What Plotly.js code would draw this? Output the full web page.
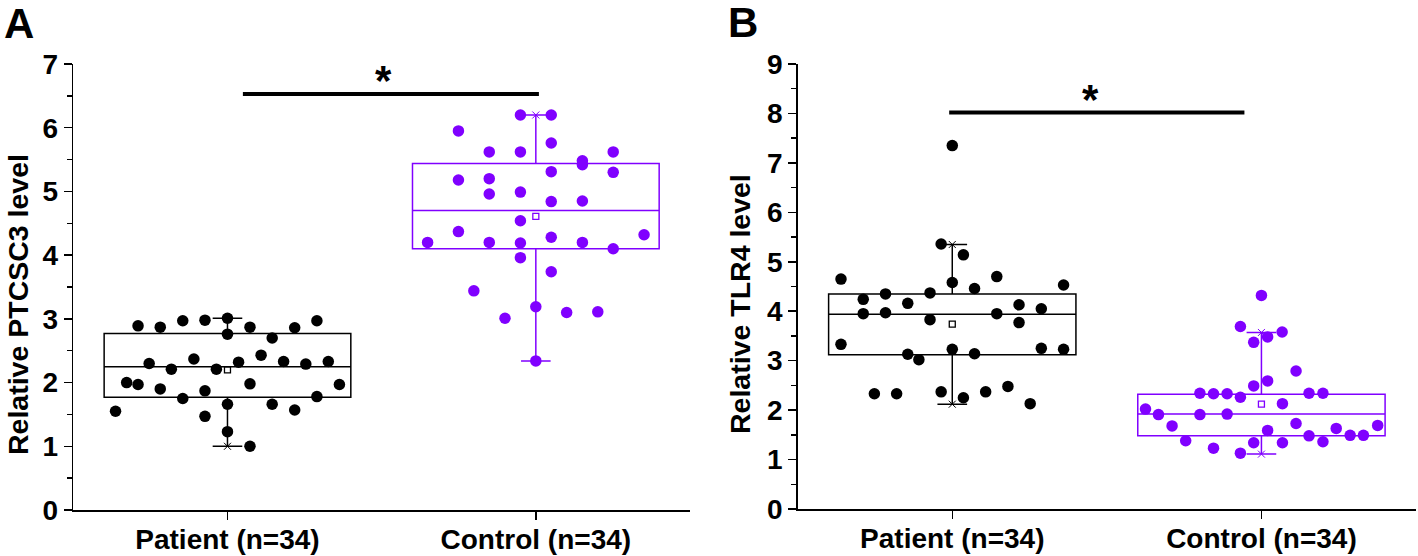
<!DOCTYPE html>
<html>
<head>
<meta charset="utf-8">
<script src="https://cdn.plot.ly/plotly-3.0.1.min.js"></script>
<style>html,body{margin:0;padding:0;background:#fff;}#chart{width:1418px;height:556px;}</style>
</head>
<body>
<div id="chart"></div>
<script>
// ---------- data ----------
const categories = ['Patient (n=34)', 'Control (n=34)'];
const yTitles = ['Relative PTCSC3 level', 'Relative TLR4 level'];
const panelLabels = ['A', 'B'];

// Panel A: PTCSC3
const ptcsc3Patient = [2.89,2.87,2.97,2.98,3.01,2.87,2.86,2.97,2.76,2.70,2.30,2.21,2.37,2.21,2.32,2.43,2.33,2.29,2.33,2.00,1.97,1.90,1.87,1.98,1.97,1.75,1.66,1.66,1.78,1.55,1.57,1.47,1.23,1.00];
const ptcsc3PatientJitter = [-0.290,-0.218,-0.145,-0.073,0,0.073,0.218,0.290,0,0.145,-0.254,-0.182,-0.109,-0.036,0.036,0.109,0.182,0.254,0.327,-0.327,-0.290,-0.218,-0.073,0.073,0.363,-0.145,0,0.145,0.290,-0.363,0.218,-0.073,0,0.073];
const ptcsc3Control = [6.20,6.20,5.95,5.62,5.62,5.76,5.48,5.42,5.62,5.18,5.20,5.31,5.30,4.96,4.99,4.84,4.85,4.54,4.20,4.37,4.20,4.19,4.28,4.20,4.10,4.32,3.96,3.74,3.44,3.19,3.10,3.11,3.01,2.34];
const ptcsc3ControlJitter = [-0.050,0.050,-0.251,-0.151,-0.050,0.050,0.151,0.151,0.251,-0.251,-0.151,0.050,0.251,-0.151,-0.050,0.050,0.151,-0.050,-0.351,-0.251,-0.151,-0.050,0.050,0.151,0.251,0.351,-0.050,0.050,-0.201,0,0.100,0.201,-0.100,0];
// box stats [patient, control]
const ptcsc3Q1 = [1.77, 4.10];
const ptcsc3Median = [2.25, 4.70];
const ptcsc3Q3 = [2.77, 5.44];
const ptcsc3Lower = [1.00, 2.34];
const ptcsc3Upper = [3.01, 6.20];
const ptcsc3Mean = [2.20, 4.61];

// Panel B: TLR4
const tlr4Patient = [7.35,5.36,5.14,4.65,4.70,4.53,4.58,4.46,4.24,4.35,4.37,4.16,4.13,4.05,3.95,3.97,3.95,3.83,3.77,3.33,3.23,3.25,3.23,3.13,3.14,3.02,2.33,2.33,2.37,2.37,2.48,2.25,2.13];
const tlr4PatientJitter = [0,-0.036,0.036,-0.36,0.144,0.36,0,0.072,-0.288,-0.216,-0.072,-0.144,0.216,0.288,-0.288,-0.216,0.144,-0.072,0.216,-0.36,0,0.288,0.36,-0.144,0.072,-0.108,-0.252,-0.18,-0.036,0.108,0.18,0.036,0.252];
const tlr4Control = [4.32,3.69,3.58,3.48,3.37,2.79,2.59,2.49,2.34,2.33,2.33,2.26,2.34,2.34,2.13,2.02,1.91,1.91,1.92,1.68,1.73,1.63,1.69,1.59,1.48,1.49,1.49,1.38,1.36,1.34,1.34,1.23,1.13];
const tlr4ControlJitter = [0,-0.068,0.067,0.020,-0.025,0.112,0.020,-0.025,-0.199,-0.155,-0.111,-0.068,0.154,0.199,0.068,-0.375,-0.333,-0.199,-0.111,-0.289,0.112,0.242,0.376,0.020,0.154,0.287,0.330,-0.245,0.199,-0.025,0.068,-0.155,-0.068];
const tlr4Q1 = [3.12, 1.48];
const tlr4Median = [3.94, 1.92];
const tlr4Q3 = [4.35, 2.32];
const tlr4Lower = [2.12, 1.11];
const tlr4Upper = [5.35, 3.57];
const tlr4Mean = [3.74, 2.12];

// significance bars
const sigA = {x0: 1.05, x1: 2.01, y: 6.53, starX: 1.506, starY: 6.86};
const sigB = {x0: 0.99, x1: 1.945, y: 8.02, starX: 1.447, starY: 8.45};

// ---------- styles ----------
const BLACK = '#000000';
const PURPLE = '#8000ff';
const FONT = 'Liberation Sans, Arial, sans-serif';
const groupColors = [BLACK, PURPLE];

function boxTraces(q1, med, q3, lo, hi, mean, xa, ya) {
  const out = [];
  for (let g = 0; g < 2; g++) {
    out.push({
      type: 'box', x: [g + 1], q1: [q1[g]], median: [med[g]], q3: [q3[g]],
      lowerfence: [lo[g]], upperfence: [hi[g]],
      width: 0.8, whiskerwidth: 0.12, boxpoints: false,
      line: {color: groupColors[g], width: 1.5},
      fillcolor: 'rgba(0,0,0,0)', xaxis: xa, yaxis: ya, hoverinfo: 'skip', showlegend: false
    });
    out.push({
      type: 'scatter', mode: 'markers', x: [g + 1], y: [mean[g]],
      marker: {symbol: 'square-open', size: 6, color: groupColors[g], line: {width: 1.3, color: groupColors[g]}},
      xaxis: xa, yaxis: ya, showlegend: false, hoverinfo: 'skip'
    });
    out.push({
      type: 'scatter', mode: 'markers', x: [g + 1, g + 1], y: [lo[g], hi[g]],
      marker: {symbol: 'x-thin-open', size: 7, color: groupColors[g], line: {width: 1, color: groupColors[g]}},
      xaxis: xa, yaxis: ya, showlegend: false, hoverinfo: 'skip'
    });
  }
  return out;
}
function pointTrace(vals, jit, g, xa, ya) {
  return {
    type: 'scatter', mode: 'markers',
    x: jit.map(j => g + 1 + j), y: vals,
    marker: {symbol: 'circle', size: 11.5, color: groupColors[g], line: {width: 0}},
    xaxis: xa, yaxis: ya, showlegend: false, hoverinfo: 'skip'
  };
}

const traces = [].concat(
  boxTraces(ptcsc3Q1, ptcsc3Median, ptcsc3Q3, ptcsc3Lower, ptcsc3Upper, ptcsc3Mean, 'x', 'y'),
  boxTraces(tlr4Q1, tlr4Median, tlr4Q3, tlr4Lower, tlr4Upper, tlr4Mean, 'x2', 'y2'),
  [pointTrace(ptcsc3Patient, ptcsc3PatientJitter, 0, 'x', 'y'),
   pointTrace(ptcsc3Control, ptcsc3ControlJitter, 1, 'x', 'y'),
   pointTrace(tlr4Patient, tlr4PatientJitter, 0, 'x2', 'y2'),
   pointTrace(tlr4Control, tlr4ControlJitter, 1, 'x2', 'y2')]
);

const tickFont = {family: FONT, size: 28, color: BLACK, weight: 700};
function xAxis(domain) {
  return {
    domain: domain, range: [0.5, 2.5], tickvals: [1, 2], ticktext: categories,
    showline: true, linecolor: BLACK, linewidth: 1.5, ticks: 'outside', ticklen: 8, tickwidth: 1.5,
    tickcolor: BLACK, showgrid: false, zeroline: false, tickfont: tickFont, automargin: false,
    ticklabelstandoff: -4, fixedrange: true
  };
}
function yAxis(domain, max, anchor) {
  return {
    domain: domain, range: [0, max], dtick: 1, anchor: anchor,
    showline: true, linecolor: BLACK, linewidth: 1.5, ticks: 'outside', ticklen: 8, tickwidth: 1.5,
    tickcolor: BLACK, showgrid: false, zeroline: false, tickfont: tickFont, automargin: false,
    minor: {dtick: 0.5, ticks: 'outside', ticklen: 5, tickwidth: 1.5, tickcolor: BLACK, showgrid: false},
    fixedrange: true
  };
}

const W = 1418, H = 556;
const titleFont = {family: FONT, size: 28.5, color: BLACK, weight: 700};
const panelFont = {family: FONT, size: 42, color: BLACK, weight: 700};
const starFont = {family: FONT, size: 42, color: BLACK, weight: 700};
const layout = {
  width: W, height: H, margin: {l: 0, r: 0, t: 0, b: 0},
  paper_bgcolor: '#fff', plot_bgcolor: 'rgba(0,0,0,0)', showlegend: false,
  xaxis: Object.assign(xAxis([73.3 / W, 690 / W]), {anchor: 'y'}),
  yaxis: yAxis([1 - 510 / H, 1 - 64 / H], 7, 'x'),
  xaxis2: Object.assign(xAxis([797.7 / W, 1416 / W]), {anchor: 'y2'}),
  yaxis2: yAxis([1 - 509 / H, 1 - 64 / H], 9, 'x2'),
  shapes: [
    {type: 'line', xref: 'x', yref: 'y', x0: sigA.x0, x1: sigA.x1, y0: sigA.y, y1: sigA.y, line: {color: BLACK, width: 4}},
    {type: 'line', xref: 'x2', yref: 'y2', x0: sigB.x0, x1: sigB.x1, y0: sigB.y, y1: sigB.y, line: {color: BLACK, width: 4}}
  ],
  annotations: [
    {xref: 'x', yref: 'y', x: sigA.starX, y: sigA.starY, text: '*', showarrow: false, font: starFont, yanchor: 'middle', yshift: -8},
    {xref: 'x2', yref: 'y2', x: sigB.starX, y: sigB.starY, text: '*', showarrow: false, font: starFont, yanchor: 'middle', yshift: -8},
    {xref: 'paper', yref: 'paper', x: 19 / W, y: 1 - 24 / H, text: panelLabels[0], showarrow: false, font: panelFont, xanchor: 'center', yanchor: 'middle'},
    {xref: 'paper', yref: 'paper', x: 743 / W, y: 1 - 23 / H, text: panelLabels[1], showarrow: false, font: panelFont, xanchor: 'center', yanchor: 'middle'},
    {xref: 'paper', yref: 'paper', x: 18 / W, y: 1 - 305 / H, text: yTitles[0], showarrow: false, font: titleFont, textangle: -90, xanchor: 'center', yanchor: 'middle'},
    {xref: 'paper', yref: 'paper', x: 740 / W, y: 1 - 304 / H, text: yTitles[1], showarrow: false, font: titleFont, textangle: -90, xanchor: 'center', yanchor: 'middle'}
  ]
};

Plotly.newPlot('chart', traces, layout, {staticPlot: true, displayModeBar: false});
</script>
</body>
</html>
